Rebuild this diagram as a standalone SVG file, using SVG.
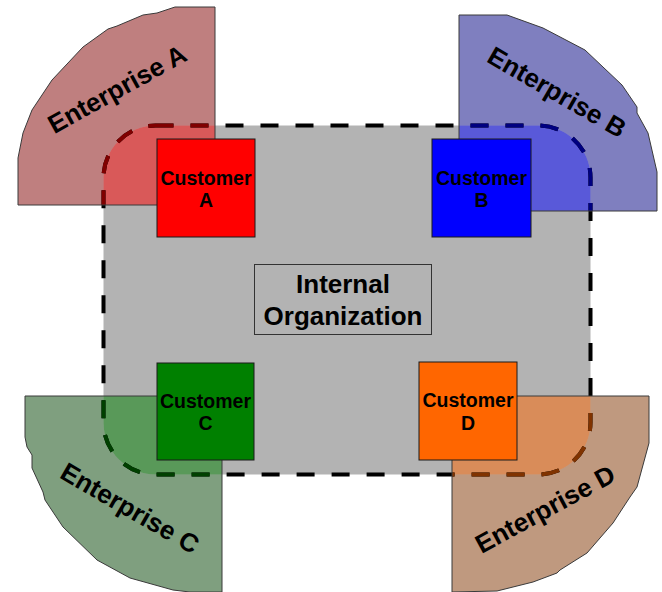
<svg xmlns="http://www.w3.org/2000/svg" width="662" height="592" viewBox="0 0 662 592">
<style>
.lbl{font-family:"Liberation Sans",Arial,sans-serif;font-weight:bold;fill:#000;}
.ent{font-size:26px;text-anchor:middle;}
.cust{font-size:19.5px;text-anchor:middle;}
.org{font-size:26px;text-anchor:middle;}
.outline{fill:none;stroke:#3a3a3a;stroke-width:1;}
.box{stroke:#1a1a1a;stroke-width:1;}
.dash{fill:none;stroke-width:4;stroke-dasharray:18 17;}
</style>
<defs>
<path id="pA" d="M215,7 L175,7 L157,13 L143,15 L117,26 L108,29 L83,47 L52,80 L32,110 L23,133 L18,158 L18,205 L215,205 Z"/>
<path id="pB" d="M459,15 L507,15 L543,28 L585,50 L622,85 L637,107 L637,113 L648,133 L657,172 L657,211 L459,211 Z"/>
<path id="pC" d="M25,396 L222,396 L222,592 L190,592 L173,590 L130,578 L97,560 L63,527 L45,500 L43,492 L32,468 L32,455 L27,447 L25,437 Z"/>
<path id="pD" d="M452,396 L649,396 L649,443 L637,487 L630,497 L613,523 L587,553 L560,570 L557,573 L533,582 L497,591 L452,592 Z"/>
<rect id="org" x="103.5" y="125.5" width="487" height="349" rx="52" ry="52"/>
<clipPath id="cOrg"><use href="#org"/></clipPath>
<clipPath id="cA"><use href="#pA"/></clipPath>
<clipPath id="cB"><use href="#pB"/></clipPath>
<clipPath id="cC"><use href="#pC"/></clipPath>
<clipPath id="cD"><use href="#pD"/></clipPath>
</defs>

<g id="enterprise-areas">
<use href="#pA" fill="#800000" fill-opacity="0.5"/>
<use href="#pB" fill="#000080" fill-opacity="0.5"/>
<use href="#pC" fill="#004000" fill-opacity="0.5"/>
<use href="#pD" fill="#803300" fill-opacity="0.5"/>
</g>

<g id="internal-organization-area">
<use href="#org" fill="#b3b3b3"/>
<g clip-path="url(#cOrg)">
<use href="#pA" fill="#ff0000" fill-opacity="0.5"/>
<use href="#pB" fill="#0000ff" fill-opacity="0.5"/>
<use href="#pC" fill="#008000" fill-opacity="0.5"/>
<use href="#pD" fill="#ff6600" fill-opacity="0.5"/>
</g>
<use href="#org" class="dash" stroke="#000"/>
<use href="#org" class="dash" stroke="#800000" clip-path="url(#cA)"/>
<use href="#org" class="dash" stroke="#000080" clip-path="url(#cB)"/>
<use href="#org" class="dash" stroke="#004000" clip-path="url(#cC)"/>
<use href="#org" class="dash" stroke="#803300" clip-path="url(#cD)"/>
</g>

<g id="enterprise-A">
<use href="#pA" class="outline"/>
<text class="lbl ent" transform="translate(117,89) rotate(-29)" dy="0.35em">Enterprise A</text>
</g>
<g id="enterprise-B">
<use href="#pB" class="outline"/>
<text class="lbl ent" transform="translate(557,92) rotate(30)" dy="0.35em">Enterprise B</text>
</g>
<g id="enterprise-C">
<use href="#pC" class="outline"/>
<text class="lbl ent" transform="translate(130,508) rotate(30)" dy="0.35em">Enterprise C</text>
</g>
<g id="enterprise-D">
<use href="#pD" class="outline"/>
<text class="lbl ent" transform="translate(545,509) rotate(-28.5)" dy="0.35em">Enterprise D</text>
</g>

<g id="customer-A">
<rect class="box" x="157" y="139" width="98" height="98" fill="#ff0000"/>
<text class="lbl cust" x="206" y="185">Customer</text>
<text class="lbl cust" x="206" y="207">A</text>
</g>
<g id="customer-B">
<rect class="box" x="432" y="139" width="99" height="98" fill="#0000ff"/>
<text class="lbl cust" x="481.5" y="185">Customer</text>
<text class="lbl cust" x="481.5" y="207">B</text>
</g>
<g id="customer-C">
<rect class="box" x="157" y="363" width="97" height="97" fill="#008000"/>
<text class="lbl cust" x="205.5" y="408">Customer</text>
<text class="lbl cust" x="205.5" y="430">C</text>
</g>
<g id="customer-D">
<rect class="box" x="419" y="362" width="98" height="98" fill="#ff6600"/>
<text class="lbl cust" x="468" y="407">Customer</text>
<text class="lbl cust" x="468" y="430">D</text>
</g>

<g id="internal-organization">
<rect x="254.5" y="264.5" width="177" height="70" fill="none" stroke="#333" stroke-width="1"/>
<text class="lbl org" x="343" y="293">Internal</text>
<text class="lbl org" x="343" y="325">Organization</text>
</g>

<g id="connectors"/>
</svg>
